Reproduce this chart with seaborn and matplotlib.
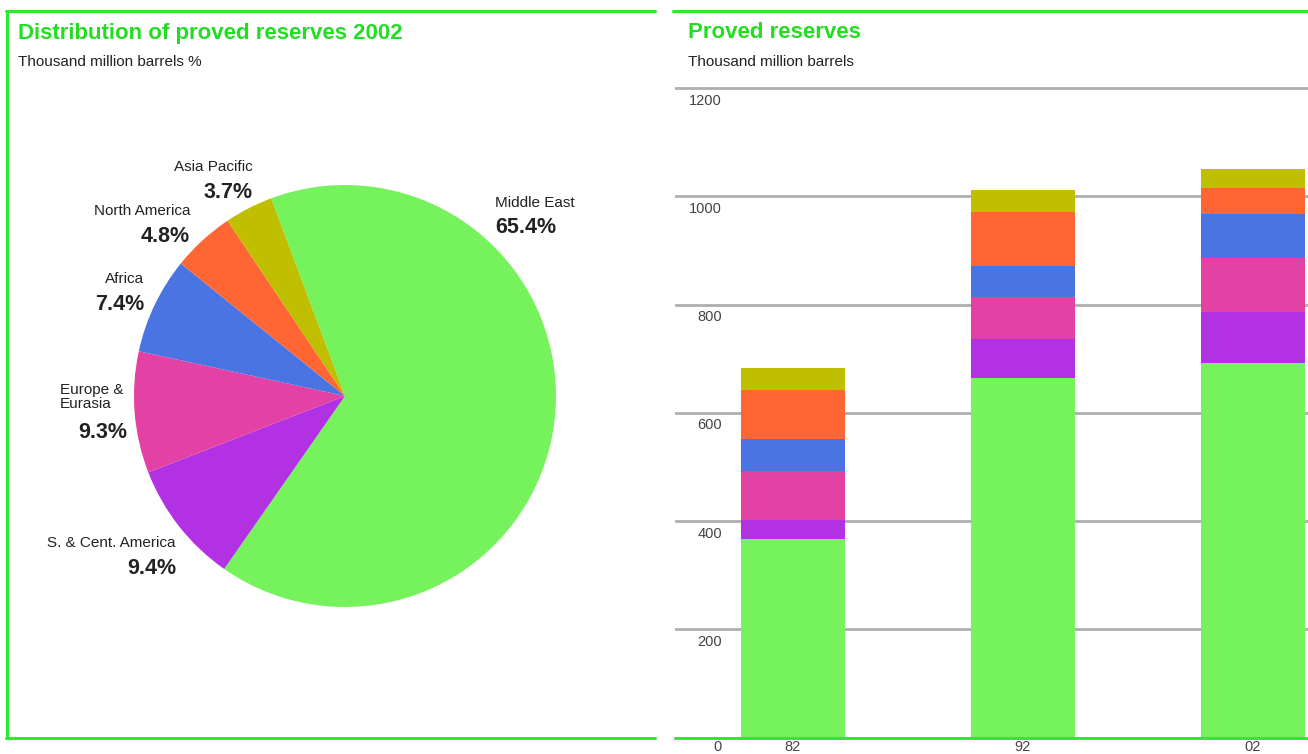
import matplotlib
matplotlib.use("Agg")
import matplotlib.pyplot as plt
import matplotlib.transforms as mtransforms
from matplotlib.lines import Line2D
import seaborn as sns
import pandas as pd
import numpy as np

# ---------------- data ----------------
regions = ["Middle East", "S. & Cent. America", "Europe &\nEurasia", "Africa", "North America", "Asia Pacific"]
shares_2002 = [65.4, 9.4, 9.3, 7.4, 4.8, 3.7]
region_colors = ["#76F25C", "#B232E3", "#E441A4", "#4B74E3", "#FF6634", "#C0BE00"]

years = ["82", "92", "02"]
middle_east = [367, 665, 692]
s_cent_america = [35, 72, 95]
europe_eurasia = [91, 77, 99]
africa = [59, 58, 81]
north_america = [90, 98, 49]
asia_pacific = [41, 42, 35]
y_ticks = [0, 200, 400, 600, 800, 1000, 1200]

# ---------------- style ----------------
sns.set_theme(style="white")
plt.rcParams["font.family"] = ["Liberation Sans", "DejaVu Sans"]

W, H = 1308, 754
fig = plt.figure(figsize=(W / 100, H / 100), dpi=100)
fig.patch.set_facecolor("white")

def fx(x):
    return x / W

def fy(y):
    return 1 - y / H

GREEN = "#2EEA2E"
TITLE_GREEN = "#22DD22"
TEXT = "#222222"

# panel frames
fig.add_artist(Line2D([fx(7), fx(7)], [fy(11), fy(737.5)], color=GREEN, lw=2.2))
fig.add_artist(Line2D([fx(6), fx(655)], [fy(11), fy(11)], color=GREEN, lw=2.2))
fig.add_artist(Line2D([fx(6), fx(655)], [fy(737.5), fy(737.5)], color=GREEN, lw=2.2))
fig.add_artist(Line2D([fx(673), fx(1308)], [fy(11), fy(11)], color=GREEN, lw=2.2))

# titles
fig.text(fx(18), fy(33), "Distribution of proved reserves 2002", fontweight="bold",
         fontsize=16, color=TITLE_GREEN, va="center", ha="left")
fig.text(fx(18), fy(62), "Thousand million barrels %", fontsize=11, color=TEXT, va="center", ha="left")
fig.text(fx(688), fy(33), "Proved reserves", fontweight="bold",
         fontsize=16, color=TITLE_GREEN, va="center", ha="left")
fig.text(fx(688), fy(62), "Thousand million barrels", fontsize=11, color=TEXT, va="center", ha="left")

# ---------------- pie ----------------
cx, cy, r = 345, 396, 211
axp = fig.add_axes([fx(cx - r), fy(cy + r), 2 * r / W, 2 * r / H])
axp.pie(shares_2002, colors=region_colors, startangle=110.5, counterclock=False,
        wedgeprops=dict(linewidth=0, edgecolor="none"))
axp.set_xlim(-1, 1)
axp.set_ylim(-1, 1)
axp.set_aspect("auto")
axp.axis("off")

# pie labels: (x, y_name, y_pct, align)
label_pos = [
    (495, 203, 228, "left"),    # Middle East
    (176, 543, 568, "right"),   # S & Cent America
    (127, 397, 432, "right"),   # Europe
    (144, 279, 304, "right"),   # Africa
    (190, 211, 237, "right"),   # North America
    (253, 167, 192, "right"),   # Asia Pacific
]
for name, share, (x, yn, yp, al) in zip(regions, shares_2002, label_pos):
    if "\n" in name:
        fig.text(fx(60), fy(yn), name, fontsize=11, color=TEXT, va="center", ha="left", linespacing=1.0)
    else:
        fig.text(fx(x), fy(yn), name, fontsize=11, color=TEXT, va="center", ha=al)
    fig.text(fx(x), fy(yp), f"{share}%", fontsize=15.5, fontweight="bold", color=TEXT, va="center", ha=al)

# ---------------- stacked bars ----------------
top_px, base_px = 86, 737.5
scale = (base_px - 88) / 1200.0
ymax = (base_px - top_px) / scale
axb = fig.add_axes([fx(675), fy(base_px), (1308 - 675) / W, (base_px - top_px) / H])

stack = [middle_east, s_cent_america, europe_eurasia, africa, north_america, asia_pacific]
cum = np.cumsum(np.array(stack), axis=0)
for level in range(len(stack) - 1, -1, -1):
    df = pd.DataFrame({"year": years, "value": cum[level]})
    sns.barplot(data=df, x="year", y="value", order=years, color=region_colors[level],
                saturation=1, width=0.45, edgecolor="none", linewidth=0, ax=axb, zorder=3)

axb.set_xlim(-0.513, 2.24)
axb.set_ylim(0, ymax)
axb.set_xlabel("")
axb.set_ylabel("")
for s in axb.spines.values():
    s.set_visible(False)
axb.set_yticks(y_ticks[1:])
axb.set_yticklabels([])
axb.tick_params(axis="y", length=0)
axb.yaxis.grid(True, color="#AFAFAF", lw=2, zorder=0)
axb.xaxis.grid(False)
axb.set_axisbelow(True)
axb.set_xticks(range(len(years)))
axb.set_xticklabels(years, fontsize=10.5, color="#444444")
axb.tick_params(axis="x", length=0, pad=1.5)
axb.axhline(0, color=GREEN, lw=2.2, zorder=5, clip_on=False)

trans = mtransforms.blended_transform_factory(axb.transAxes, axb.transData)
for v in y_ticks:
    off = -1.5 if v == 0 else -4
    axb.annotate(str(v), xy=((722 - 675) / (1308 - 675), v), xycoords=trans,
                 xytext=(0, off), textcoords="offset points", ha="right", va="top",
                 fontsize=10.5, color="#444444", annotation_clip=False)

fig.savefig("out.png", dpi=100, facecolor="white")
